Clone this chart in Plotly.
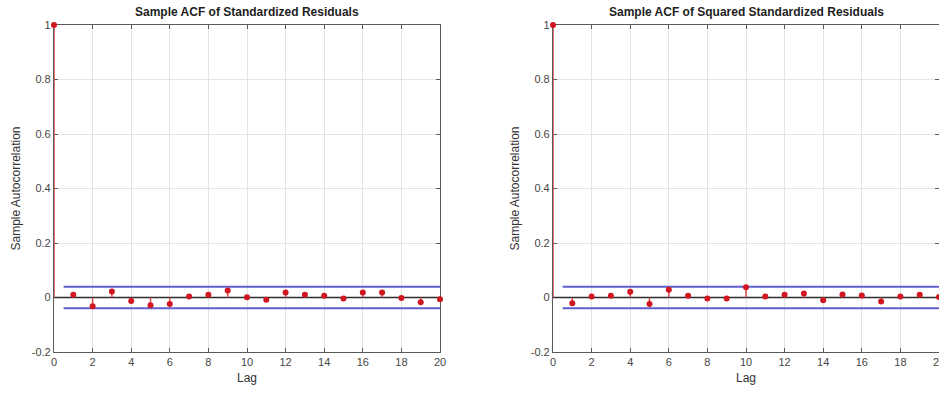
import plotly.graph_objects as go

lags = list(range(0, 21))
acf_resid = [1.0, 0.010, -0.032, 0.022, -0.013, -0.028, -0.024, 0.004, 0.010, 0.026, 0.001,
             -0.008, 0.018, 0.010, 0.006, -0.004, 0.018, 0.018, -0.002, -0.017, -0.006]
acf_sq = [1.0, -0.021, 0.004, 0.006, 0.021, -0.024, 0.028, 0.006, -0.004, -0.004, 0.038,
          0.004, 0.010, 0.015, -0.010, 0.011, 0.007, -0.015, 0.004, 0.010, 0.002]
bound = 0.0396
bound_x = [0.5, 20]
titles = ["Sample ACF of Standardized Residuals", "Sample ACF of Squared Standardized Residuals"]
xticks = list(range(0, 21, 2))
yticks = [-0.2, 0, 0.2, 0.4, 0.6, 0.8, 1]
yticklabels = ["-0.2", "0", "0.2", "0.4", "0.6", "0.8", "1"]

RED = "rgb(208,22,32)"
BLUE = "rgb(95,95,205)"
FONT = "Liberation Sans, Arial, sans-serif"

fig = go.Figure()

for i, vals in enumerate([acf_resid, acf_sq]):
    xa = "x" if i == 0 else "x2"
    ya = "y" if i == 0 else "y2"
    fig.add_trace(go.Scatter(x=[lags[0], lags[-1]], y=[0, 0], mode="lines",
                             line=dict(color="rgb(45,45,45)", width=1.5),
                             xaxis=xa, yaxis=ya, showlegend=False, hoverinfo="skip"))
    for b in (bound, -bound):
        fig.add_trace(go.Scatter(x=bound_x, y=[b, b], mode="lines",
                                 line=dict(color=BLUE, width=2),
                                 xaxis=xa, yaxis=ya, showlegend=False, hoverinfo="skip"))
    sx, sy = [], []
    for l, v in zip(lags, vals):
        sx += [l, l, None]
        sy += [0, v, None]
    fig.add_trace(go.Scatter(x=sx, y=sy, mode="lines", cliponaxis=False,
                             line=dict(color="rgb(215,70,70)", width=1.5),
                             xaxis=xa, yaxis=ya, showlegend=False, hoverinfo="skip"))
    fig.add_trace(go.Scatter(x=lags, y=vals, mode="markers", cliponaxis=False,
                             marker=dict(color=RED, size=6),
                             xaxis=xa, yaxis=ya, showlegend=False))

W, H = 939, 394
xd1 = [54 / W, 440 / W]
xd2 = [553 / W, 1.0]
yd = [1 - 352 / H, 1 - 25 / H]

axis_common = dict(showline=True, linecolor="rgb(90,90,90)", linewidth=1.2, mirror="ticks",
                   ticks="inside", ticklen=4, tickcolor="rgb(90,90,90)", automargin=False,
                   layer="below traces", ticklabeloverflow="allow",
                   showgrid=True, gridcolor="rgb(228,228,228)", gridwidth=1,
                   zeroline=False, tickfont=dict(family=FONT, size=11, color="rgb(70,70,70)"))

xcommon = dict(axis_common, range=[0, 20], tickvals=xticks,
               title=dict(text="Lag", font=dict(family=FONT, size=12, color="rgb(50,50,50)"), standoff=6))
ycommon = dict(axis_common, range=[-0.2, 1], tickvals=yticks, ticktext=yticklabels,
               title=dict(text="Sample Autocorrelation", font=dict(family=FONT, size=12, color="rgb(50,50,50)"), standoff=8))

fig.update_layout(
    width=W, height=H,
    margin=dict(l=0, r=0, t=0, b=0, autoexpand=False),
    paper_bgcolor="white", plot_bgcolor="white",
    xaxis=dict(xcommon, domain=xd1, anchor="y"),
    yaxis=dict(ycommon, domain=yd, anchor="x"),
    xaxis2=dict(xcommon, domain=xd2, anchor="y2"),
    yaxis2=dict(ycommon, domain=yd, anchor="x2"),
    annotations=[
        dict(text="<b>" + titles[0] + "</b>", x=(xd1[0] + xd1[1]) / 2, y=1 - 12 / H,
             xref="paper", yref="paper", showarrow=False, xanchor="center", yanchor="middle",
             font=dict(family=FONT, size=12, color="rgb(30,30,30)")),
        dict(text="<b>" + titles[1] + "</b>", x=(553 + 939) / 2 / W, y=1 - 12 / H,
             xref="paper", yref="paper", showarrow=False, xanchor="center", yanchor="middle",
             font=dict(family=FONT, size=12, color="rgb(30,30,30)")),
    ],
)

fig.write_html("out.html", config={"displayModeBar": False},
               post_script="document.body.style.margin='0';document.body.style.overflow='hidden';")
